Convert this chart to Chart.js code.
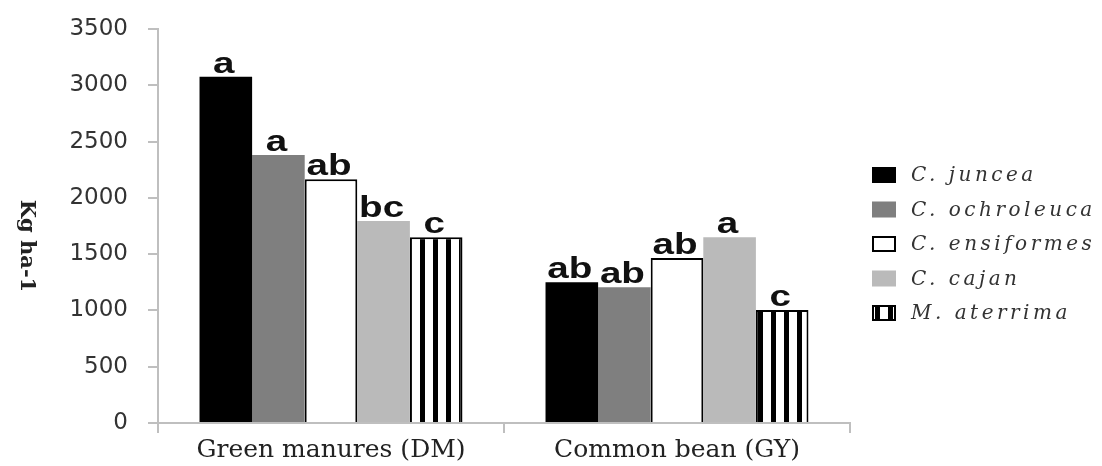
<!DOCTYPE html>
<html>
<head>
<meta charset="utf-8">
<script src="https://cdn.jsdelivr.net/npm/chart.js@4"></script>
<style>
  html, body { margin: 0; padding: 0; background: #fff; }
  #wrap { width: 1102px; height: 466px; }
</style>
</head>
<body>
<div id="wrap"><canvas id="barChart" width="1102" height="466"></canvas></div>
<script>
// Data
const categories = ['Green manures (DM)', 'Common bean (GY)'];
const seriesNames = ['C. juncea', 'C. ochroleuca', 'C. ensiformes', 'C. cajan', 'M. aterrima'];
const juncea = [3075, 1250];
const ochroleuca = [2380, 1205];
const ensiformes = [2165, 1465];
const cajan = [1795, 1650];
const aterrima = [1650, 1003];
const lettersJuncea = ['a', 'ab'];
const lettersOchroleuca = ['a', 'ab'];
const lettersEnsiformes = ['ab', 'ab'];
const lettersCajan = ['bc', 'a'];
const lettersAterrima = ['c', 'c'];
const yTicks = [0, 500, 1000, 1500, 2000, 2500, 3000, 3500];
const yTitle = 'Kg ha-1';

// vertical stripe fill for M. aterrima
function stripePattern() {
    const c = document.createElement('canvas');
    c.width = 13;
    c.height = 13;
    const g = c.getContext('2d');
    g.fillStyle = '#fff';
    g.fillRect(0, 0, 13, 13);
    g.fillStyle = '#000';
    g.fillRect(4, 0, 5, 13);
    return g.createPattern(c, 'repeat');
}
const stripes = stripePattern();

const fills = ['#000000', '#7f7f7f', '#ffffff', '#bababa', stripes];
const borders = [0, 0, 2, 0, 2];
const values = [juncea, ochroleuca, ensiformes, cajan, aterrima];
const letters = [lettersJuncea, lettersOchroleuca, lettersEnsiformes, lettersCajan, lettersAterrima];

// letters over bars, legend and rotated axis title
const extras = {
    id: 'extras',
    afterDatasetsDraw(chart) {
        const ctx = chart.ctx;
        ctx.save();
        ctx.fillStyle = '#111';
        ctx.font = 'bold 29px "Liberation Sans", Arial, sans-serif';
        ctx.textAlign = 'center';
        ctx.textBaseline = 'alphabetic';
        chart.data.datasets.forEach((ds, i) => {
            chart.getDatasetMeta(i).data.forEach((bar, j) => {
                ctx.save();
                ctx.translate(bar.x - 2, bar.y - 4);
                ctx.scale(1.33, 1);
                ctx.fillText(letters[i][j], 0, 0);
                ctx.restore();
            });
        });
        ctx.restore();
    },
    afterDraw(chart) {
        const ctx = chart.ctx;
        // legend
        const rows = [175, 209.5, 244, 278.5, 313];
        ctx.save();
        ctx.font = 'italic 20px "DejaVu Serif", serif';
        ctx.letterSpacing = '3.5px';
        ctx.textBaseline = 'middle';
        seriesNames.forEach((name, i) => {
            const y = rows[i];
            ctx.fillStyle = fills[i];
            ctx.fillRect(872, y - 8, 24, 16);
            if (borders[i]) {
                ctx.strokeStyle = '#000';
                ctx.lineWidth = 2;
                ctx.strokeRect(873, y - 7, 22, 14);
            }
            ctx.fillStyle = '#333';
            ctx.fillText(name, 911, y + 1);
        });
        ctx.restore();
        // y title, rotated clockwise
        ctx.save();
        ctx.translate(26, 246);
        ctx.rotate(Math.PI / 2);
        ctx.font = 'bold 21px "DejaVu Serif", serif';
        ctx.fillStyle = '#222';
        ctx.textAlign = 'center';
        ctx.textBaseline = 'middle';
        ctx.fillText(yTitle, 0, 0);
        ctx.restore();
    }
};

document.addEventListener('DOMContentLoaded', () => {
    const ctx = document.getElementById('barChart').getContext('2d');
    const barChart = new Chart(ctx, {
        type: 'bar',
        data: {
            labels: categories,
            datasets: seriesNames.map((name, i) => ({
                label: name,
                data: values[i],
                backgroundColor: fills[i],
                borderColor: '#000',
                borderWidth: borders[i],
                barPercentage: 1,
                categoryPercentage: 0.76
            }))
        },
        options: {
            responsive: false,
            animation: false,
            devicePixelRatio: 1,
            layout: { padding: { top: 29, right: 252, bottom: 0, left: 0 } },
            scales: {
                x: {
                    grid: { drawOnChartArea: false, color: '#bfbfbf', tickLength: 10, lineWidth: 2 },
                    border: { color: '#bfbfbf', width: 2 },
                    ticks: {
                        color: '#222',
                        padding: 2,
                        font: { family: '"DejaVu Serif", serif', size: 25 }
                    },
                    afterFit: (scale) => { scale.height = 43; }
                },
                y: {
                    min: 0,
                    max: 3500,
                    grid: { drawOnChartArea: false, color: '#bfbfbf', tickLength: 10, lineWidth: 2 },
                    border: { color: '#bfbfbf', width: 2 },
                    afterBuildTicks: (scale) => { scale.ticks = yTicks.map(v => ({ value: v })); },
                    ticks: {
                        color: '#333',
                        padding: 20,
                        font: { family: '"DejaVu Sans", sans-serif', size: 23 },
                        callback: (v) => String(v)
                    },
                    afterFit: (scale) => {
                        scale.width = 158;
                        scale.paddingTop = 0;
                        scale.paddingBottom = 0;
                    }
                }
            },
            plugins: {
                legend: { display: false },
                tooltip: { enabled: false }
            }
        },
        plugins: [extras]
    });
});
</script>
</body>
</html>
